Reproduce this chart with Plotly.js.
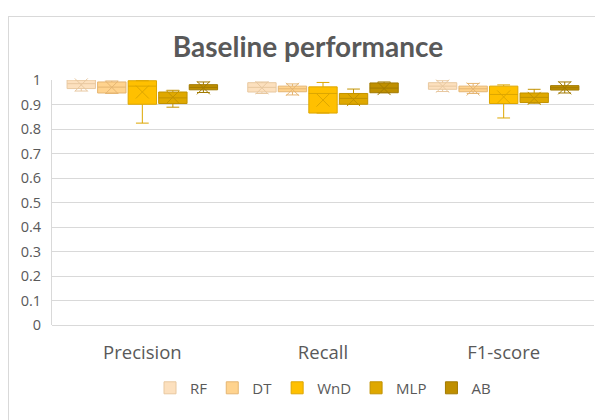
<!DOCTYPE html>
<html>
<head>
<meta charset="utf-8">
<script src="https://cdn.plot.ly/plotly-3.0.1.min.js"></script>
<style>
html,body{margin:0;padding:0;width:595px;height:420px;overflow:hidden;background:#fff;}
#frame{position:absolute;left:8px;top:16px;width:600px;height:410px;border:1px solid #d9d9d9;box-sizing:border-box;}
#chart{width:598px;height:408px;}
</style>
</head>
<body>
<div id="frame"><div id="chart"></div></div>
<script>
const categories = ['Precision', 'Recall', 'F1-score'];
const models = ['RF', 'DT', 'WnD', 'MLP', 'AB'];

// per model, one value per category (Precision, Recall, F1-score)
const lowerRF  = [0.955, 0.945, 0.953];
const q1RF     = [0.965, 0.951, 0.962];
const medRF    = [0.985, 0.970, 0.975];
const q3RF     = [1.000, 0.989, 0.989];
const upperRF  = [1.000, 0.992, 0.997];
const meanRF   = [0.980, 0.968, 0.975];

const lowerDT  = [0.945, 0.939, 0.945];
const q1DT     = [0.947, 0.952, 0.952];
const medDT    = [0.971, 0.964, 0.964];
const q3DT     = [0.992, 0.975, 0.975];
const upperDT  = [0.996, 0.984, 0.986];
const meanDT   = [0.970, 0.962, 0.963];

const lowerWnD = [0.824, 0.865, 0.845];
const q1WnD    = [0.901, 0.865, 0.904];
const medWnD   = [0.975, 0.945, 0.941];
const q3WnD    = [0.997, 0.972, 0.975];
const upperWnD = [0.997, 0.990, 0.980];
const meanWnD  = [0.951, 0.918, 0.931];

const lowerMLP = [0.889, 0.900, 0.905];
const q1MLP    = [0.904, 0.901, 0.908];
const medMLP   = [0.927, 0.925, 0.929];
const q3MLP    = [0.951, 0.945, 0.947];
const upperMLP = [0.958, 0.963, 0.962];
const meanMLP  = [0.930, 0.920, 0.925];

const lowerAB  = [0.949, 0.948, 0.947];
const q1AB     = [0.960, 0.948, 0.959];
const medAB    = [0.970, 0.967, 0.968];
const q3AB     = [0.981, 0.988, 0.977];
const upperAB  = [0.992, 0.992, 0.992];
const meanAB   = [0.968, 0.965, 0.968];

const yTicks = [0, 0.1, 0.2, 0.3, 0.4, 0.5, 0.6, 0.7, 0.8, 0.9, 1];
const yTickText = ['0', '0.1', '0.2', '0.3', '0.4', '0.5', '0.6', '0.7', '0.8', '0.9', '1'];

const stats = {
  RF:  [lowerRF, q1RF, medRF, q3RF, upperRF, meanRF],
  DT:  [lowerDT, q1DT, medDT, q3DT, upperDT, meanDT],
  WnD: [lowerWnD, q1WnD, medWnD, q3WnD, upperWnD, meanWnD],
  MLP: [lowerMLP, q1MLP, medMLP, q3MLP, upperMLP, meanMLP],
  AB:  [lowerAB, q1AB, medAB, q3AB, upperAB, meanAB]
};
const fills = {RF:'#FCE0BE', DT:'#FFD38E', WnD:'#FFC000', MLP:'#DFA800', AB:'#BF8F00'};
const lines = {RF:'#E8C8A0', DT:'#E5B572', WnD:'#DDA600', MLP:'#C29200', AB:'#A27A00'};

const pitch = 0.169, bw = 0.157;
const traces = [];
models.forEach((m, i) => {
  const [lo, q1, med, q3, up, mean] = stats[m];
  const xs = categories.map((c, k) => k + (i - 2) * pitch);
  traces.push({
    type: 'box', name: m, x: xs,
    lowerfence: lo, q1: q1, median: med, q3: q3, upperfence: up,
    width: bw, whiskerwidth: 0.45,
    fillcolor: fills[m], line: {color: lines[m], width: 1},
    hoverinfo: 'skip', showlegend: true
  });
});
models.forEach((m, i) => {
  const mean = stats[m][5];
  const xs = categories.map((c, k) => k + (i - 2) * pitch);
  traces.push({
    type: 'scatter', mode: 'markers', x: xs, y: mean, showlegend: false,
    marker: {symbol: 'x-thin-open', size: 13, color: lines[m], line: {color: lines[m], width: 1}},
    hoverinfo: 'skip', cliponaxis: false
  });
});

const layout = {
  width: 598, height: 408,
  margin: {l: 43, r: 13, t: 63, b: 100},
  paper_bgcolor: '#ffffff', plot_bgcolor: '#ffffff',
  font: {family: 'Open Sans, sans-serif', color: '#595959'},
  title: {text: '<b>Baseline performance</b>', font: {family: 'Lato, sans-serif', size: 28, color: '#595959'},
          x: 0.5, xanchor: 'center', y: 0.925, yanchor: 'middle'},
  xaxis: {range: [-0.5, 2.5], tickvals: [0, 1, 2], ticktext: categories, showgrid: false, zeroline: false,
          showline: false, ticks: 'outside', ticklen: 11, tickcolor: 'rgba(0,0,0,0)',
          tickfont: {size: 18.5, color: '#595959'}, fixedrange: true},
  yaxis: {range: [0, 1], tickvals: yTicks, ticktext: yTickText, showgrid: true, gridcolor: '#d9d9d9', gridwidth: 1,
          zeroline: true, zerolinecolor: '#d9d9d9', zerolinewidth: 1, showline: true, linecolor: '#d9d9d9',
          ticks: 'outside', ticklen: 7, tickcolor: 'rgba(0,0,0,0)',
          tickfont: {size: 14.5, color: '#595959'}, fixedrange: true},
  legend: {orientation: 'h', x: 0.5, xanchor: 'center', y: -0.19, yanchor: 'top',
           font: {size: 15, color: '#595959'}, itemwidth: 30, traceorder: 'normal'},
  showlegend: true
};

Plotly.newPlot('chart', traces, layout, {staticPlot: true, displayModeBar: false});
</script>
</body>
</html>
